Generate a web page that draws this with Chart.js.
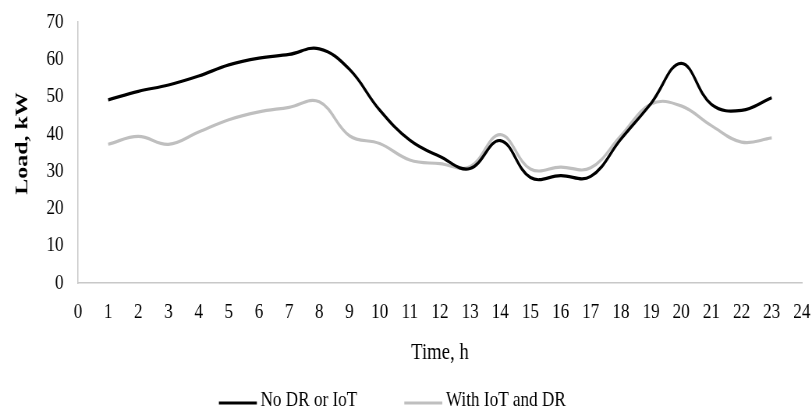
<!DOCTYPE html>
<html>
<head>
<meta charset="utf-8">
<script src="https://cdn.jsdelivr.net/npm/chart.js@4/dist/chart.umd.min.js"></script>
<style>
html,body{margin:0;padding:0;background:#fff;overflow:hidden;}
#c{display:block;width:812px;height:414px;}
</style>
</head>
<body>
<canvas id="c" width="1041" height="414" style="width:812px;height:414px;"></canvas>
<script>
const hours = [1,2,3,4,5,6,7,8,9,10,11,12,13,14,15,16,17,18,19,20,21,22,23];
const noDR = [49.1,51.4,53.1,55.5,58.5,60.3,61.3,62.8,57.3,46.4,38.3,33.9,30.7,38.2,28.3,28.8,28.6,38.6,48.2,58.9,47.9,46.3,49.7];
const withIoT = [37.2,39.3,37.2,40.5,43.8,45.9,47.1,48.6,39.5,37.4,33.0,32.0,31.2,39.8,30.6,31.1,30.9,39.5,48.0,47.5,42.2,37.8,38.9];
const seriesNames = ['No DR or IoT','With IoT and DR'];
const yTitle = 'Load, kW';
const xTitle = 'Time, h';

const font = 'Liberation Serif';

// y-axis title and legend drawn on the canvas
const extras = {
  id:'extras',
  afterDraw(chart){
    const ctx = chart.ctx;
    ctx.save();
    // y title
    ctx.save();
    ctx.translate(28.4, 143.5);
    ctx.rotate(-Math.PI/2);
    ctx.font = 'bold 24px "' + font + '"';
    ctx.textAlign = 'center';
    ctx.textBaseline = 'middle';
    ctx.fillStyle = '#000';
    ctx.fillText(yTitle, 0, 0);
    ctx.restore();
    // legend
    ctx.font = '22px "' + font + '"';
    ctx.textBaseline = 'middle';
    const lineW = 48.7, gap = 4.7, itemGap = 60.3;
    const items = chart.data.datasets.map(d => ({label:d.label, color:d.borderColor, w: ctx.measureText(d.label).width}));
    const total = items.reduce((s,it)=>s+lineW+gap+it.w,0) + itemGap*(items.length-1);
    const cx = 503, y = 403;
    let x = cx - total/2;
    items.forEach(it=>{
      ctx.strokeStyle = it.color; ctx.lineWidth = 3.2;
      ctx.beginPath(); ctx.moveTo(x, y); ctx.lineTo(x+lineW, y); ctx.stroke();
      ctx.fillStyle = '#000';
      ctx.fillText(it.label, x+lineW+gap, y-3);
      x += lineW+gap+it.w+itemGap;
    });
    ctx.restore();
  }
};

new Chart(document.getElementById('c'), {
  type: 'line',
  data: {
    datasets: [
      {label: seriesNames[0], data: hours.map((h,i)=>({x:h,y:noDR[i]})), borderColor:'#000000', backgroundColor:'#000000', borderWidth:3.2, pointRadius:0, tension:0.4},
      {label: seriesNames[1], data: hours.map((h,i)=>({x:h,y:withIoT[i]})), borderColor:'#bfbfbf', backgroundColor:'#bfbfbf', borderWidth:3.2, pointRadius:0, tension:0.4}
    ]
  },
  plugins:[extras],
  options: {
    responsive:false, animation:false, devicePixelRatio:1,
    layout:{padding:{top:22,right:13,left:0,bottom:0}},
    plugins:{
      legend:{display:false},
      tooltip:{enabled:false}
    },
    scales:{
      x:{type:'linear', min:0, max:24,
        ticks:{stepSize:1, color:'#000', font:{family:font,size:22}, padding:16, maxRotation:0, autoSkip:false},
        grid:{display:false, drawTicks:false},
        border:{color:'#c8c8c8', width:1.5},
        title:{display:true, text:xTitle, color:'#000', font:{family:font,size:24}, padding:{top:0,bottom:47}},
        afterFit:(s)=>{s.height=131; s.paddingLeft=0; s.paddingRight=0;}
      },
      y:{min:0, max:70,
        ticks:{stepSize:10, color:'#000', font:{family:font,size:22}, padding:18.5},
        grid:{display:false, drawTicks:false},
        border:{color:'#c8c8c8', width:1.5},
        title:{display:false, text:yTitle},
        afterFit:(s)=>{s.width=100; s.paddingTop=0; s.paddingBottom=0;}
      }
    }
  }
});
</script>
</body>
</html>
